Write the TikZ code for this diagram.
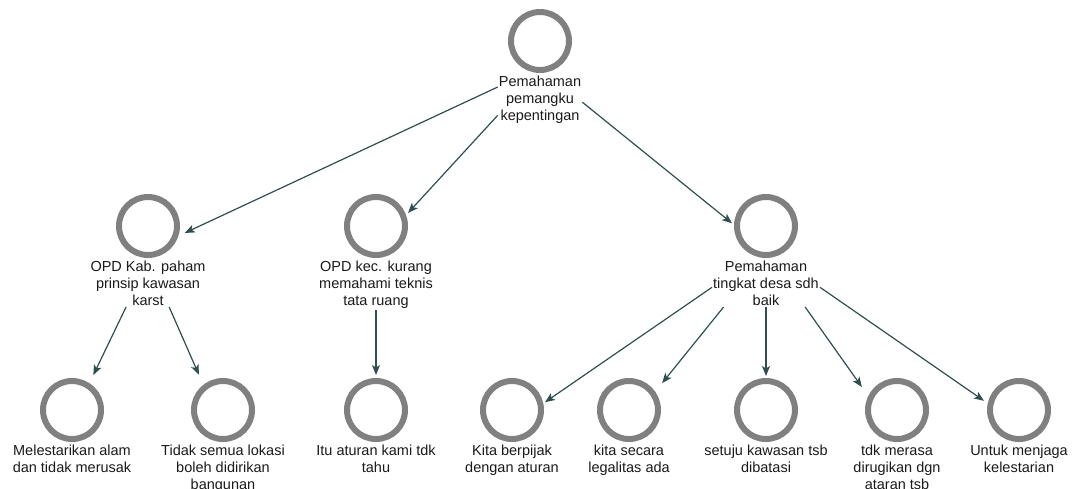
\documentclass[tikz,border=0pt]{standalone}
\usepackage{fontspec}
\setmainfont{Liberation Sans}
\usetikzlibrary{arrows.meta}
\definecolor{ringgray}{HTML}{808080}
\definecolor{edgecol}{HTML}{2F4F4F}
\definecolor{txt}{HTML}{1A1A1A}
\begin{document}
\begin{tikzpicture}[x=1pt,y=-1pt,
  ring/.style={circle,draw=ringgray,line width=6pt,minimum size=58pt,inner sep=0pt},
  lbl/.style={anchor=north,align=center,inner sep=1pt,font=\fontsize{14.5}{17}\selectfont,text=txt},
  edge/.style={draw=edgecol,line width=1.2pt,-{Stealth[length=10pt,width=8pt,inset=2.5pt]}}]
\useasboundingbox (0,0) rectangle (1075,488);
\clip (0,0) rectangle (1075,488);
% root
\node[ring] (r) at (540,41) {};
\node[lbl] (rl) at ([yshift=-2pt]r.south) {Pemahaman\\pemangku\\kepentingan};
% level 2
\node[ring] (A) at (148,226) {};
\node[lbl] (Al) at ([yshift=-2pt]A.south) {OPD Kab. paham\\prinsip kawasan\\karst};
\node[ring] (B) at (376,226) {};
\node[lbl] (Bl) at ([yshift=-2pt]B.south) {OPD kec. kurang\\memahami teknis\\tata ruang};
\node[ring] (C) at (766,226) {};
\node[lbl] (Cl) at ([yshift=-2pt]C.south) {Pemahaman\\tingkat desa sdh\\baik};
% level 3
\node[ring] (A1) at (72,410) {};
\node[lbl] (A1l) at ([yshift=-2pt]A1.south) {Melestarikan alam\\dan tidak merusak};
\node[ring] (A2) at (223,410) {};
\node[lbl] (A2l) at ([yshift=-2pt]A2.south) {Tidak semua lokasi\\boleh didirikan\\bangunan};
\node[ring] (B1) at (376,410) {};
\node[lbl] (B1l) at ([yshift=-2pt]B1.south) {Itu aturan kami tdk\\tahu};
\node[ring] (C1) at (512,410) {};
\node[lbl] (C1l) at ([yshift=-2pt]C1.south) {Kita berpijak\\dengan aturan};
\node[ring] (C2) at (629,410) {};
\node[lbl] (C2l) at ([yshift=-2pt]C2.south) {kita secara\\legalitas ada};
\node[ring] (C3) at (766,410) {};
\node[lbl] (C3l) at ([yshift=-2pt]C3.south) {setuju kawasan tsb\\dibatasi};
\node[ring] (C4) at (897,410) {};
\node[lbl] (C4l) at ([yshift=-2pt]C4.south) {tdk merasa\\dirugikan dgn\\ataran tsb};
\node[ring] (C5) at (1019,410) {};
\node[lbl] (C5l) at ([yshift=-2pt]C5.south) {Untuk menjaga\\kelestarian};
% edges
\draw[edge,shorten >=7pt] (rl.163) -- (A.-18);
\draw[edge,shorten >=3pt] (rl.200) -- (B.20);
\draw[edge,shorten >=2.6pt] (rl.-3) -- (C.178);
\draw[edge,shorten >=9pt] (Al.227) -- (A1.57);
\draw[edge,shorten >=11pt] (Al.312) -- (A2.128);
\draw[edge,shorten >=3pt] (Bl.south) -- (B1.north);
\draw[edge,shorten >=2pt] (Cl.184) -- (C1.12);
\draw[edge,shorten >=11pt] (Cl.209) -- (C2.35);
\draw[edge,shorten >=2pt] (Cl.south) -- (C3.north);
\draw[edge,shorten >=11pt] (Cl.329) -- (C4.154);
\draw[edge,shorten >=4.5pt] (Cl.-4) -- (C5.168);
\end{tikzpicture}
\end{document}
